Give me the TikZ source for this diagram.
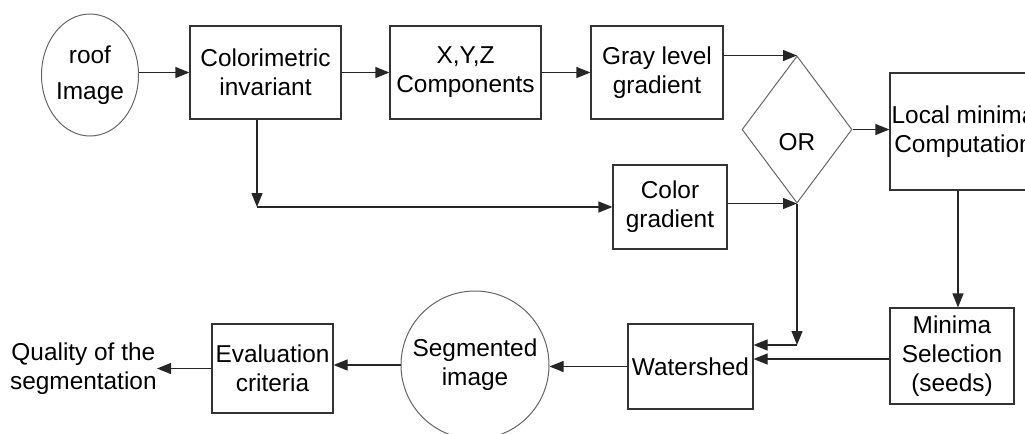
\documentclass[tikz,border=0pt]{standalone}
\usepackage{fontspec}
\setmainfont{Liberation Sans}
\usetikzlibrary{shapes.geometric,arrows.meta}
\begin{document}
\begin{tikzpicture}[x=0.5pt,y=-0.5pt,
  every node/.style={font=\fontsize{12.2}{14.5}\selectfont,align=center,inner sep=0pt,text=black},
  box/.style={draw=black!80,line width=0.6pt,rectangle},
  rnd/.style={draw=black!60,line width=0.5pt},
  arr/.style={draw=black!85,line width=0.6pt,-{Triangle[length=7pt,width=5.5pt]}}]
\useasboundingbox (0,0) rectangle (1025,434);
\fill[white] (0,0) rectangle (1025,434);
\node[rnd,ellipse,minimum width=48.5pt,minimum height=61pt,font=\fontsize{12.2}{18}\selectfont] (roof) at (90,75) {roof\\Image};
\node[box,minimum width=75.5pt,minimum height=46.5pt] (col) at (265.5,72.5) {Colorimetric\\invariant};
\node[box,minimum width=75.5pt,minimum height=46.5pt] (xyz) at (465.5,72.5) {X,Y,Z\\Components};
\node[box,minimum width=66pt,minimum height=46.5pt] (gray) at (657,72.5) {Gray level\\gradient};
\node[rnd,diamond,minimum width=55pt,minimum height=73.5pt] (or) at (797,129.5) {};
\node (ortxt) at (797,142) {OR};
\node[box,minimum width=73.5pt,minimum height=58.5pt] (loc) at (963.5,131.5) {Local minima\\Computation};
\node[box,minimum width=57pt,minimum height=42pt] (colg) at (670,207) {Color\\gradient};
\coordinate (c1) at (257,207);
\coordinate (c2) at (797,345);
\node[box,minimum width=62.5pt,minimum height=42.5pt] (ws) at (690.5,366.5) {Watershed};
\node[box,minimum width=62pt,minimum height=48pt] (ms) at (952,356) {Minima\\Selection\\(seeds)};
\node[rnd,circle,minimum size=74pt] (seg) at (475,365) {Segmented\\image};
\node[box,minimum width=60.5pt,minimum height=44.5pt] (ev) at (272.5,368.5) {Evaluation\\criteria};
\node[anchor=east] (q) at (157,369) {Quality of the\\segmentation};
\draw[arr] (col.west -| roof.east) -- (col.west);
\draw[arr] (col.east) -- (xyz.west);
\draw[arr] (xyz.east) -- (gray.west);
\draw[arr] (gray.east |- or.north) -- (or.north);
\draw[arr] (or.east) -- (or.east -| loc.west);
\draw[arr] (c1 |- col.south) -- (c1);
\draw[arr] (c1) -- (colg.west);
\draw[arr] (colg.east |- or.south) -- (or.south);
\draw[arr] (or.south) -- (c2);
\draw[arr] (c2) -- (c2 -| ws.east);
\draw[arr] ([xshift=-2.75pt]loc.south) -- ([xshift=-2.75pt]loc.south |- ms.north);
\draw[arr] ([yshift=-1.5pt]ms.west) -- ([yshift=-1.5pt]ms.west -| ws.east);
\draw[arr] (ws.west) -- (ws.west -| seg.east);
\draw[arr] (seg.west) -- (seg.west -| ev.east);
\draw[arr] (ev.west) -- (ev.west -| q.east);
\end{tikzpicture}
\end{document}
